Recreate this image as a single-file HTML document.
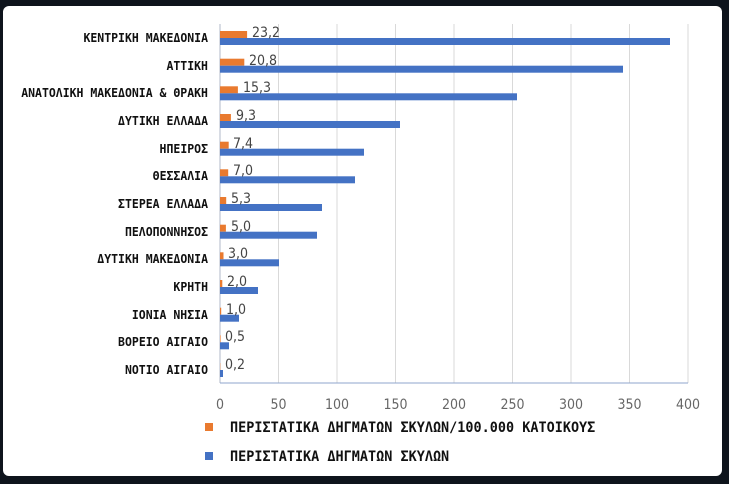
<!DOCTYPE html>
<html><head><meta charset="utf-8"><style>
html,body{margin:0;padding:0;background:#0e141c;}
svg{display:block}
.c{font-family:"DejaVu Sans Mono","Liberation Mono",monospace;font-weight:bold;font-size:12.5px;fill:#111;}
.t{font-family:"DejaVu Sans Condensed","Liberation Sans",sans-serif;font-size:14px;fill:#666;}
.d{font-family:"DejaVu Sans Condensed","Liberation Sans",sans-serif;font-size:14px;fill:#444;}
.l{font-family:"DejaVu Sans Mono","Liberation Mono",monospace;font-weight:bold;font-size:14.5px;fill:#111;}
</style></head><body>
<svg width="729" height="484" viewBox="0 0 729 484">
<rect x="0" y="0" width="729" height="484" fill="#0e141c"/>
<rect x="3" y="6" width="719" height="470" rx="6" fill="#fff"/>
<g stroke="#d9d9d9" stroke-width="1">
<line x1="278.5" y1="24" x2="278.5" y2="383"/><line x1="337" y1="24" x2="337" y2="383"/>
<line x1="395.5" y1="24" x2="395.5" y2="383"/><line x1="454" y1="24" x2="454" y2="383"/>
<line x1="512.5" y1="24" x2="512.5" y2="383"/><line x1="571" y1="24" x2="571" y2="383"/>
<line x1="629.5" y1="24" x2="629.5" y2="383"/><line x1="688" y1="24" x2="688" y2="383"/>
</g>
<line x1="220" y1="24" x2="220" y2="383" stroke="#b0b8c8"/>
<line x1="220" y1="383" x2="688" y2="383" stroke="#8fa6cc"/>
<g fill="#e97a2f">
<rect x="220" y="31" width="27.1" height="7"/><rect x="220" y="58.7" width="24.3" height="7"/>
<rect x="220" y="86.3" width="17.9" height="7"/><rect x="220" y="114" width="10.9" height="7"/>
<rect x="220" y="141.7" width="8.7" height="7"/><rect x="220" y="169.3" width="8.2" height="7"/>
<rect x="220" y="197" width="6.2" height="7"/><rect x="220" y="224.7" width="5.9" height="7"/>
<rect x="220" y="252.3" width="3.5" height="7"/><rect x="220" y="280" width="2.3" height="7"/>
<rect x="220" y="307.7" width="1.2" height="7"/><rect x="220" y="335.3" width="0.6" height="7"/>
<rect x="220" y="363" width="0.3" height="7"/>
</g>
<g fill="#4472c4">
<rect x="220" y="38" width="450" height="7"/><rect x="220" y="65.7" width="403" height="7"/>
<rect x="220" y="93.3" width="297" height="7"/><rect x="220" y="121" width="180" height="7"/>
<rect x="220" y="148.7" width="144" height="7"/><rect x="220" y="176.3" width="135" height="7"/>
<rect x="220" y="204" width="102" height="7"/><rect x="220" y="231.7" width="97" height="7"/>
<rect x="220" y="259.3" width="59" height="7"/><rect x="220" y="287" width="38" height="7"/>
<rect x="220" y="314.7" width="19" height="7"/><rect x="220" y="342.3" width="9" height="7"/>
<rect x="220" y="370" width="3" height="7"/>
</g>
<g class="c" text-anchor="end" transform="translate(208,0) scale(0.92,1) translate(-208,0)">
<text x="208" y="42">ΚΕΝΤΡΙΚΗ ΜΑΚΕΔΟΝΙΑ</text>
<text x="208" y="70">ΑΤΤΙΚΗ</text>
<text x="208" y="97">ΑΝΑΤΟΛΙΚΗ ΜΑΚΕΔΟΝΙΑ &amp; ΘΡΑΚΗ</text>
<text x="208" y="125">ΔΥΤΙΚΗ ΕΛΛΑΔΑ</text>
<text x="208" y="153">ΗΠΕΙΡΟΣ</text>
<text x="208" y="180">ΘΕΣΣΑΛΙΑ</text>
<text x="208" y="208">ΣΤΕΡΕΑ ΕΛΛΑΔΑ</text>
<text x="208" y="236">ΠΕΛΟΠΟΝΝΗΣΟΣ</text>
<text x="208" y="263">ΔΥΤΙΚΗ ΜΑΚΕΔΟΝΙΑ</text>
<text x="208" y="291">ΚΡΗΤΗ</text>
<text x="208" y="319">ΙΟΝΙΑ ΝΗΣΙΑ</text>
<text x="208" y="346">ΒΟΡΕΙΟ ΑΙΓΑΙΟ</text>
<text x="208" y="374">ΝΟΤΙΟ ΑΙΓΑΙΟ</text>
</g>
<g class="d">
<text x="252" y="37">23,2</text><text x="249" y="65">20,8</text>
<text x="243" y="92">15,3</text><text x="236" y="120">9,3</text>
<text x="233" y="148">7,4</text><text x="233" y="175">7,0</text>
<text x="231" y="203">5,3</text><text x="231" y="231">5,0</text>
<text x="228" y="258">3,0</text><text x="227" y="286">2,0</text>
<text x="226" y="314">1,0</text><text x="225" y="341">0,5</text>
<text x="225" y="369">0,2</text>
</g>
<g class="t" text-anchor="middle">
<text x="220" y="409">0</text><text x="278.5" y="409">50</text><text x="337" y="409">100</text>
<text x="395.5" y="409">150</text><text x="454" y="409">200</text><text x="512.5" y="409">250</text>
<text x="571" y="409">300</text><text x="629.5" y="409">350</text><text x="688" y="409">400</text>
</g>
<rect x="205" y="423" width="8" height="8" fill="#e97a2f"/>
<rect x="205" y="452" width="8" height="8" fill="#4472c4"/>
<g transform="translate(230,0) scale(0.93,1) translate(-230,0)">
<text class="l" x="230" y="432">ΠΕΡΙΣΤΑΤΙΚΑ ΔΗΓΜΑΤΩΝ ΣΚΥΛΩΝ/100.000 ΚΑΤΟΙΚΟΥΣ</text>
<text class="l" x="230" y="461">ΠΕΡΙΣΤΑΤΙΚΑ ΔΗΓΜΑΤΩΝ ΣΚΥΛΩΝ</text>
</g>
</svg>
</body></html>
